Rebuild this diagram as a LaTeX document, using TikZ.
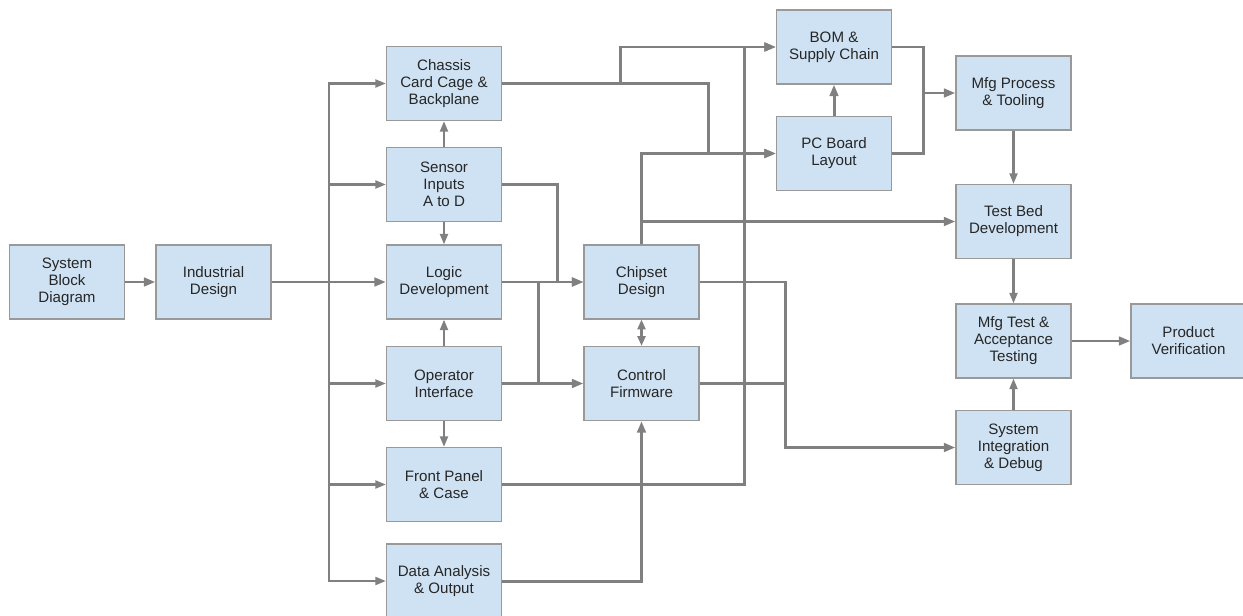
\documentclass[tikz,border=0pt]{standalone}
\usepackage{fontspec}
\setmainfont{Liberation Sans}
\usepackage{tikz}
\usetikzlibrary{arrows.meta}
\definecolor{boxfill}{HTML}{CFE2F3}
\definecolor{boxline}{HTML}{999999}
\definecolor{wire}{HTML}{808080}
\tikzset{
    flow-box/.style = {draw=boxline, fill=boxfill, line width=0.7pt, rectangle, minimum width=2.3cm, minimum height=1.48cm, inner sep=0pt, align=center, text=black!85, font=\fontsize{8.6}{9.7}\selectfont},
    flow-line/.style = {draw=wire, line width=1.7pt},
    flow-thin/.style = {draw=wire, line width=1.3pt},
    flow-arrow/.style = {flow-line, -{Triangle[length=6.5pt, width=4.8pt]}},
    flow-thin-arrow/.style = {flow-thin, -{Triangle[length=6pt, width=4.5pt]}},
}

\begin{document}
\begin{tikzpicture}[x=0.02cm, y=-0.02cm]
\useasboundingbox (0,0) rectangle (1243,615);

\node [flow-box] (sbd) at (67,282) {System\\Block\\Diagram};
\node [flow-box] (ind) at (213.5,282) {Industrial\\Design};
\node [flow-box] (chassis) at (444,83.5) {Chassis\\Card Cage \&\\Backplane};
\node [flow-box] (sensor) at (444,184.5) {Sensor\\Inputs\\A to D};
\node [flow-box] (logic) at (444,282) {Logic\\Development};
\node [flow-box] (oper) at (444,383.5) {Operator\\Interface};
\node [flow-box] (front) at (444,484.5) {Front Panel\\\& Case};
\node [flow-box] (data) at (444,581) {Data Analysis\\\& Output};
\node [flow-box] (chip) at (641.5,282) {Chipset\\Design};
\node [flow-box] (ctrl) at (641.5,383.5) {Control\\Firmware};
\node [flow-box] (bom) at (834,47) {BOM \&\\Supply Chain};
\node [flow-box] (pcb) at (834,153.5) {PC Board\\Layout};
\node [flow-box] (mfgp) at (1013.5,93) {Mfg Process\\\& Tooling};
\node [flow-box] (testbed) at (1013.5,221.5) {Test Bed\\Development};
\node [flow-box] (mfgt) at (1013.5,341) {Mfg Test \&\\Acceptance\\Testing};
\node [flow-box] (sysint) at (1013.5,447.5) {System\\Integration\\\& Debug};
\node [flow-box] (prod) at (1188.5,341) {Product\\Verification};

\coordinate (bus) at (329,282);
\coordinate (ch-up) at (620,83.5);
\coordinate (ch-dn) at (708,83.5);
\coordinate (fp-up) at (744,484.5);
\coordinate (s-drop) at (557,282);
\coordinate (lo-join) at (538,282);
\coordinate (cs-dn) at (785,282);
\coordinate (mg) at (923,93);

\draw [flow-arrow] (sbd) -- (ind);
\draw [flow-arrow] (ind) -- (logic);
\foreach \n in {chassis,sensor,oper,front,data}
    \draw [flow-thin-arrow] (bus) |- (\n);

\draw [flow-thin-arrow] (sensor) -- (chassis);
\draw [flow-thin-arrow] (sensor) -- (logic);
\draw [flow-thin-arrow] (oper) -- (logic);
\draw [flow-thin-arrow] (oper) -- (front);

\draw [flow-arrow] (sensor.east) -| (s-drop) -- (chip);
\draw [flow-arrow] (logic) -- (chip);
\draw [flow-arrow] (oper) -- (ctrl);
\draw [flow-line] (lo-join) -- (lo-join |- oper);
\draw [flow-thin, {Triangle[length=5.5pt, width=4.5pt]}-{Triangle[length=5.5pt, width=4.5pt]}] (chip) -- (ctrl);
\draw [flow-arrow] (data) -| (ctrl);

\draw [flow-arrow] (chassis) -- (ch-up) |- (bom);
\draw [flow-arrow] (chassis) -- (ch-dn) |- (pcb);
\draw [flow-arrow] (front) -- (fp-up) |- (bom);
\draw [flow-arrow] (chip.north) |- (pcb);
\draw [flow-arrow] (chip.north) |- (testbed);
\draw [flow-arrow] (chip) -- (cs-dn) |- (sysint);
\draw [flow-line] (ctrl) -- (ctrl -| cs-dn);

\draw [flow-arrow] (pcb) -- (bom);
\draw [flow-line] (bom) -| (mg);
\draw [flow-line] (pcb) -| (mg);
\draw [flow-arrow] (mg) -- (mfgp);

\draw [flow-thin-arrow] (mfgp) -- (testbed);
\draw [flow-thin-arrow] (testbed) -- (mfgt);
\draw [flow-thin-arrow] (sysint) -- (mfgt);
\draw [flow-arrow] (mfgt) -- (prod);
\end{tikzpicture}
\end{document}
